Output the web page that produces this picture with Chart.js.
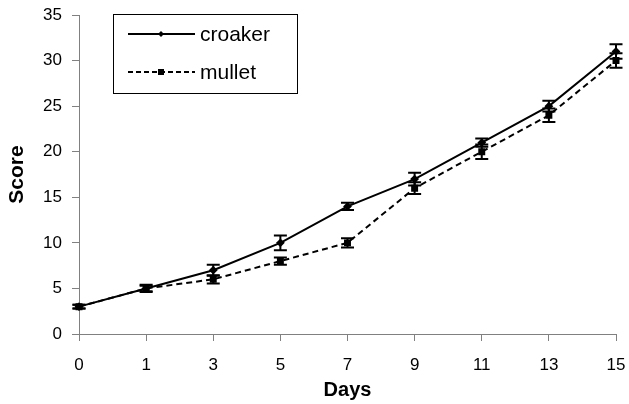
<!DOCTYPE html>
<html><head><meta charset="utf-8">
<script src="https://cdn.jsdelivr.net/npm/chart.js@4"></script>
<style>html,body{margin:0;padding:0;background:#fff}canvas{display:block}</style>
</head><body>
<canvas id="c" width="629" height="404"></canvas>
<script>
const days = ["0","1","3","5","7","9","11","13","15"];
const croaker = [3,5,7,10,14,17,21,25,31];
const croakerErr = [0.2,0.3,0.6,0.8,0.4,0.7,0.45,0.6,0.8];
const mullet = [3,5,6,8,10,16,20,24,30];
const mulletErr = [0.2,0.4,0.45,0.4,0.5,0.65,0.8,0.75,0.8];
const yTicks = [0,5,10,15,20,25,30,35];
const FONT = "'Liberation Sans', Arial, sans-serif";

const errorBars = {
  id:'errorBars',
  afterDatasetsDraw(chart){
    const ctx = chart.ctx, y = chart.scales.y;
    const errs = [croakerErr, mulletErr];
    chart.data.datasets.forEach((ds,i)=>{
      const meta = chart.getDatasetMeta(i);
      meta.data.forEach((pt,j)=>{
        const v = ds.data[j], e = errs[i][j];
        const y1 = y.getPixelForValue(v+e), y2 = y.getPixelForValue(v-e);
        ctx.save(); ctx.strokeStyle='#000'; ctx.lineWidth=2; ctx.setLineDash([]);
        ctx.beginPath();
        ctx.moveTo(pt.x,y1); ctx.lineTo(pt.x,y2);
        ctx.moveTo(pt.x-6.5,y1); ctx.lineTo(pt.x+6.5,y1);
        ctx.moveTo(pt.x-6.5,y2); ctx.lineTo(pt.x+6.5,y2);
        ctx.stroke(); ctx.restore();
      });
    });
  }
};
const boxLegend = {
  id:'boxLegend',
  afterDraw(chart){
    const ctx = chart.ctx;
    ctx.save();
    ctx.strokeStyle='#000'; ctx.lineWidth=1;
    ctx.strokeRect(113.5,14.5,184,79);
    const items = [{lbl:'croaker',dash:[],y:34,shape:'diamond'},{lbl:'mullet',dash:[5,3],y:72,shape:'square'}];
    items.forEach(it=>{
      ctx.setLineDash(it.dash); ctx.lineWidth=2;
      ctx.beginPath(); ctx.moveTo(128,it.y); ctx.lineTo(195,it.y); ctx.stroke();
      ctx.setLineDash([]); ctx.fillStyle='#000';
      if(it.shape==='square'){ctx.fillRect(158,it.y-3,6,6);}
      else {ctx.beginPath();ctx.moveTo(161,it.y-3);ctx.lineTo(164,it.y);ctx.lineTo(161,it.y+3);ctx.lineTo(158,it.y);ctx.closePath();ctx.fill();}
      ctx.font = "21px "+FONT; ctx.textBaseline='middle'; ctx.textAlign='left';
      ctx.fillText(it.lbl,200,it.y+1);
    });
    ctx.restore();
  }
};

new Chart(document.getElementById('c'),{
  type:'line',
  data:{labels:days,datasets:[
    {label:'croaker',data:croaker,borderColor:'#000',backgroundColor:'#000',borderWidth:2,pointStyle:'rectRot',pointRadius:3,tension:0},
    {label:'mullet',data:mullet,borderColor:'#000',backgroundColor:'#000',borderWidth:2,borderDash:[6,4],pointStyle:'rect',pointRadius:3.5,tension:0}
  ]},
  options:{
    responsive:false,animation:false,
    layout:{padding:{left:0,right:13,top:15,bottom:0}},
    plugins:{legend:{display:false},tooltip:{enabled:false}},
    scales:{
      x:{offset:false,grid:{display:true,drawOnChartArea:false,drawTicks:true,tickLength:7,color:'#808080'},
         border:{color:'#808080',width:1},
         ticks:{color:'#000',font:{family:FONT,size:17},padding:14,maxRotation:0,autoSkip:false},
         title:{display:true,text:'Days',color:'#000',font:{family:FONT,size:20,weight:'bold'},padding:{top:2,bottom:2}},
         afterFit(s){s.height=70;s.paddingLeft=0;s.paddingRight=0;}},
      y:{min:0,max:35,afterBuildTicks(s){s.ticks=yTicks.map(v=>({value:v}));},
         grid:{display:true,drawOnChartArea:false,drawTicks:true,tickLength:7,color:'#808080'},
         border:{color:'#808080',width:1},
         ticks:{color:'#000',font:{family:FONT,size:17},padding:10},
         title:{display:true,text:'Score',color:'#000',font:{family:FONT,size:21,weight:'bold'},padding:{top:5,bottom:4}},
         afterFit(s){s.width=79;s.paddingTop=0;s.paddingBottom=0;}}
    }
  },
  plugins:[errorBars,boxLegend]
});
</script>
</body></html>
